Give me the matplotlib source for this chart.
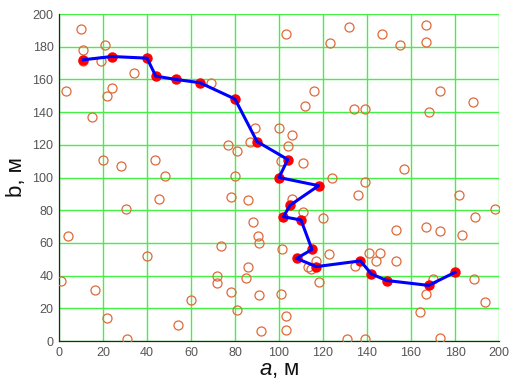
import matplotlib
import matplotlib.pyplot as plt

matplotlib.use('Agg')

plt.rcParams['font.family'] = ['Liberation Sans', 'DejaVu Sans']
plt.rcParams['mathtext.fontset'] = 'custom'
plt.rcParams['mathtext.it'] = 'Liberation Sans:italic'
plt.rcParams['mathtext.rm'] = 'Liberation Sans'

# scattered points (orange circles)
pts_x = [10, 11, 21, 11, 19, 34, 3, 24, 22, 15, 69, 89, 87, 77, 81, 100, 106, 104, 101, 111,
         20, 28, 43.5, 48, 80,
         103, 123, 132, 147, 155, 167, 167, 116, 112, 134, 139, 173, 188, 168, 157, 124, 139,
         136, 182, 198, 189, 183, 167, 173, 153, 106, 111, 120, 101.5, 122.6, 117, 113, 114.5,
         141, 146, 144, 153, 134.5, 118, 170, 188.5, 167, 193.5, 164, 101, 103, 103, 131, 139, 173,
         45.5, 78, 86, 30.5, 4, 88, 90.5, 91, 73.5, 40, 86, 72, 72, 85, 1, 16.5, 78, 91, 60, 81,
         22, 54, 92, 31]
pts_y = [191, 178, 181, 171, 171, 164, 153, 155, 150, 137, 158, 130, 122, 120, 116, 130, 126, 119, 110, 109,
         111, 107, 111, 101, 101,
         188, 182, 192, 188, 181, 193, 183, 153, 144, 142, 142, 153, 146, 140, 105, 100, 97,
         89, 89, 81, 76, 65, 70, 67, 68, 87, 79, 75, 56, 53, 49, 45, 44,
         54, 54, 49, 49, 46, 36, 38, 38, 29, 24, 18, 28.5, 15.5, 7, 1, 1, 2,
         87, 88, 86, 81, 64, 72.5, 64, 60, 58, 52, 45, 40, 35.5, 38.5, 36.5, 31, 30, 28, 25, 19,
         14, 10, 6, 1]

# route (blue line with red nodes)
route_x = [11, 24, 40, 44, 53, 64, 80, 90, 104, 100, 118, 105, 102, 110, 115, 108, 117, 137, 142, 149, 168, 180]
route_y = [172, 174, 173, 162, 160, 158, 148, 122, 111, 100, 95, 83, 76, 74, 56, 50.5, 45.5, 49, 41, 37, 34, 42]

fig = plt.figure(figsize=(5.09, 3.79), dpi=100)
ax = fig.add_axes([59 / 509, 38 / 379, 440 / 509, 327 / 379])

ax.plot(pts_x, pts_y, 'o', markersize=6.5, markerfacecolor='none',
        markeredgecolor='#DE6A3A', markeredgewidth=0.9, zorder=3)
ax.plot(route_x, route_y, 'o', markersize=6.5, color='#FF0000', zorder=4)
ax.plot(route_x, route_y, '-', color='#0000FF', linewidth=2.2, zorder=5)

ax.set_xlim(0, 200)
ax.set_ylim(0, 200)
ax.set_xticks(range(0, 201, 20))
ax.set_yticks(range(0, 201, 20))
ax.grid(True, color='#44F044', linewidth=1.0)
ax.set_axisbelow(True)

for s in ['top', 'right']:
    ax.spines[s].set_visible(False)
for s in ['left', 'bottom']:
    ax.spines[s].set_color('#262626')
    ax.spines[s].set_linewidth(0.9)

ax.tick_params(direction='in', length=0, labelsize=9, colors='#555555', pad=4)

ax.set_xlabel('$a$, м', fontsize=16, labelpad=0, color='#111111')
ax.set_ylabel('b, м', fontsize=16, labelpad=4, color='#111111')

fig.savefig('out.png', dpi=100)
